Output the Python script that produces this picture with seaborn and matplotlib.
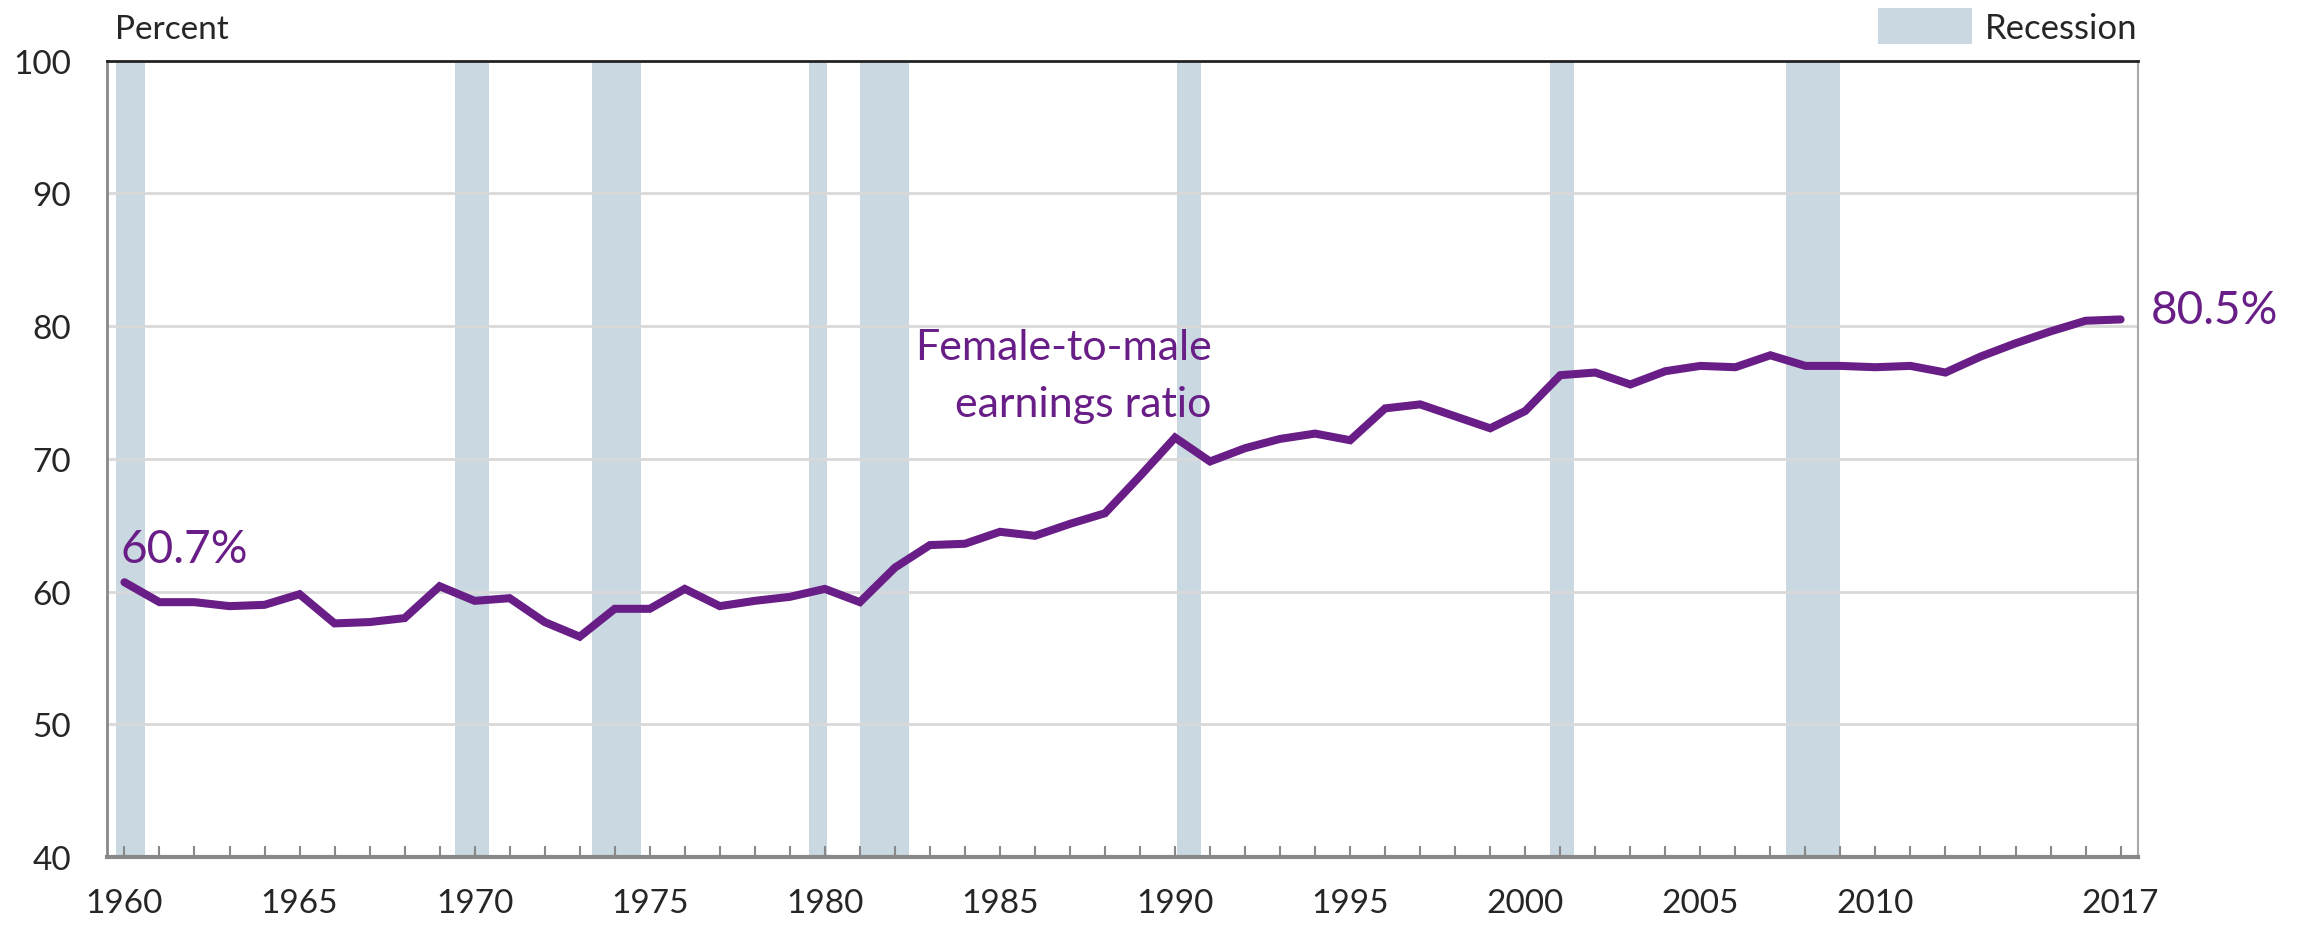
import matplotlib
matplotlib.use("Agg")
import matplotlib.pyplot as plt
from matplotlib.patches import Patch
import seaborn as sns
import pandas as pd

# female-to-male earnings ratio, percent
years = list(range(1960, 2018))
ratio = [60.7, 59.2, 59.2, 58.9, 59.0, 59.8, 57.6, 57.7, 58.0, 60.4,
         59.3, 59.5, 57.7, 56.6, 58.7, 58.7, 60.2, 58.9, 59.3, 59.6,
         60.2, 59.2, 61.8, 63.5, 63.6, 64.5, 64.2, 65.1, 65.9, 68.7,
         71.6, 69.8, 70.8, 71.5, 71.9, 71.4, 73.8, 74.1, 73.2, 72.3,
         73.6, 76.3, 76.5, 75.6, 76.6, 77.0, 76.9, 77.8, 77.0, 77.0,
         76.9, 77.0, 76.5, 77.7, 78.7, 79.6, 80.4, 80.5]

# recession bands (start, end) in chart years
rec_start = [1959.75, 1969.45, 1973.35, 1979.55, 1981.0, 1990.05, 2000.72, 2007.45]
rec_end = [1960.6, 1970.4, 1974.75, 1980.05, 1982.4, 1990.75, 2001.4, 2009.0]

xtick_pos = [1960, 1965, 1970, 1975, 1980, 1985, 1990, 1995, 2000, 2005, 2010, 2017]
ytick_pos = [40, 50, 60, 70, 80, 90, 100]

df = pd.DataFrame({"Year": years, "Ratio": ratio})

purple = "#681e86"
rec_color = "#cad8e1"

sns.set_style("white")
plt.rcParams['font.family'] = ['Lato', 'DejaVu Sans']

fig, ax = plt.subplots(figsize=(23, 9.29), dpi=100)
fig.subplots_adjust(left=0.0465, right=0.9296, top=0.9337, bottom=0.0764)

for s, e in zip(rec_start, rec_end):
    ax.axvspan(s, e, color=rec_color, lw=0, zorder=0)

for y in [50, 60, 70, 80, 90]:
    ax.axhline(y, color="#d9d9d9", lw=2, zorder=1)

sns.lineplot(data=df, x="Year", y="Ratio", color=purple, lw=5.8, ax=ax,
             zorder=3, solid_capstyle="round", solid_joinstyle="miter")

ax.set_xlim(1959.5, 2017.5)
ax.set_ylim(40, 100)
ax.set_xlabel("")
ax.set_ylabel("")

ax.set_xticks(years, minor=True)
ax.set_xticks(xtick_pos)
ax.set_xticklabels([str(x) for x in xtick_pos])
ax.set_yticks(ytick_pos)
ax.tick_params(axis="x", which="both", direction="in", length=8, width=1.5,
               color="#888888", labelsize=24, pad=22, bottom=True)
ax.tick_params(axis="y", length=0, labelsize=24, pad=26)

ax.spines["top"].set_color("#222222")
ax.spines["top"].set_linewidth(2)
ax.spines["left"].set_color("#888888")
ax.spines["left"].set_linewidth(2)
ax.spines["right"].set_color("#aaaaaa")
ax.spines["right"].set_linewidth(1.5)
ax.spines["bottom"].set_color("#888888")
ax.spines["bottom"].set_linewidth(3)

ax.text(1959.9, 61.6, "60.7%", color=purple, fontsize=33, ha="left", va="bottom")
ax.text(2017.85, 81.2, "80.5%", color=purple, fontsize=33, ha="left", va="center",
        clip_on=False)
ax.text(1991.05, 77.5, "Female-to-male", color=purple, fontsize=31,
        ha="right", va="baseline")
ax.text(1991.05, 73.2, "earnings ratio", color=purple, fontsize=31,
        ha="right", va="baseline")

fig.text(115 / 2300, 1 - 30 / 929, "Percent", fontsize=24, ha="left", va="center")

handle = Patch(facecolor=rec_color, edgecolor="none")
fig.legend([handle], ["Recession"], loc="center right",
           bbox_to_anchor=(2137 / 2300, 1 - 27 / 929), frameon=False, fontsize=25,
           handlelength=2.7, handleheight=1.2, handletextpad=0.35, borderpad=0,
           borderaxespad=0)

plt.savefig("out.png", dpi=100)
